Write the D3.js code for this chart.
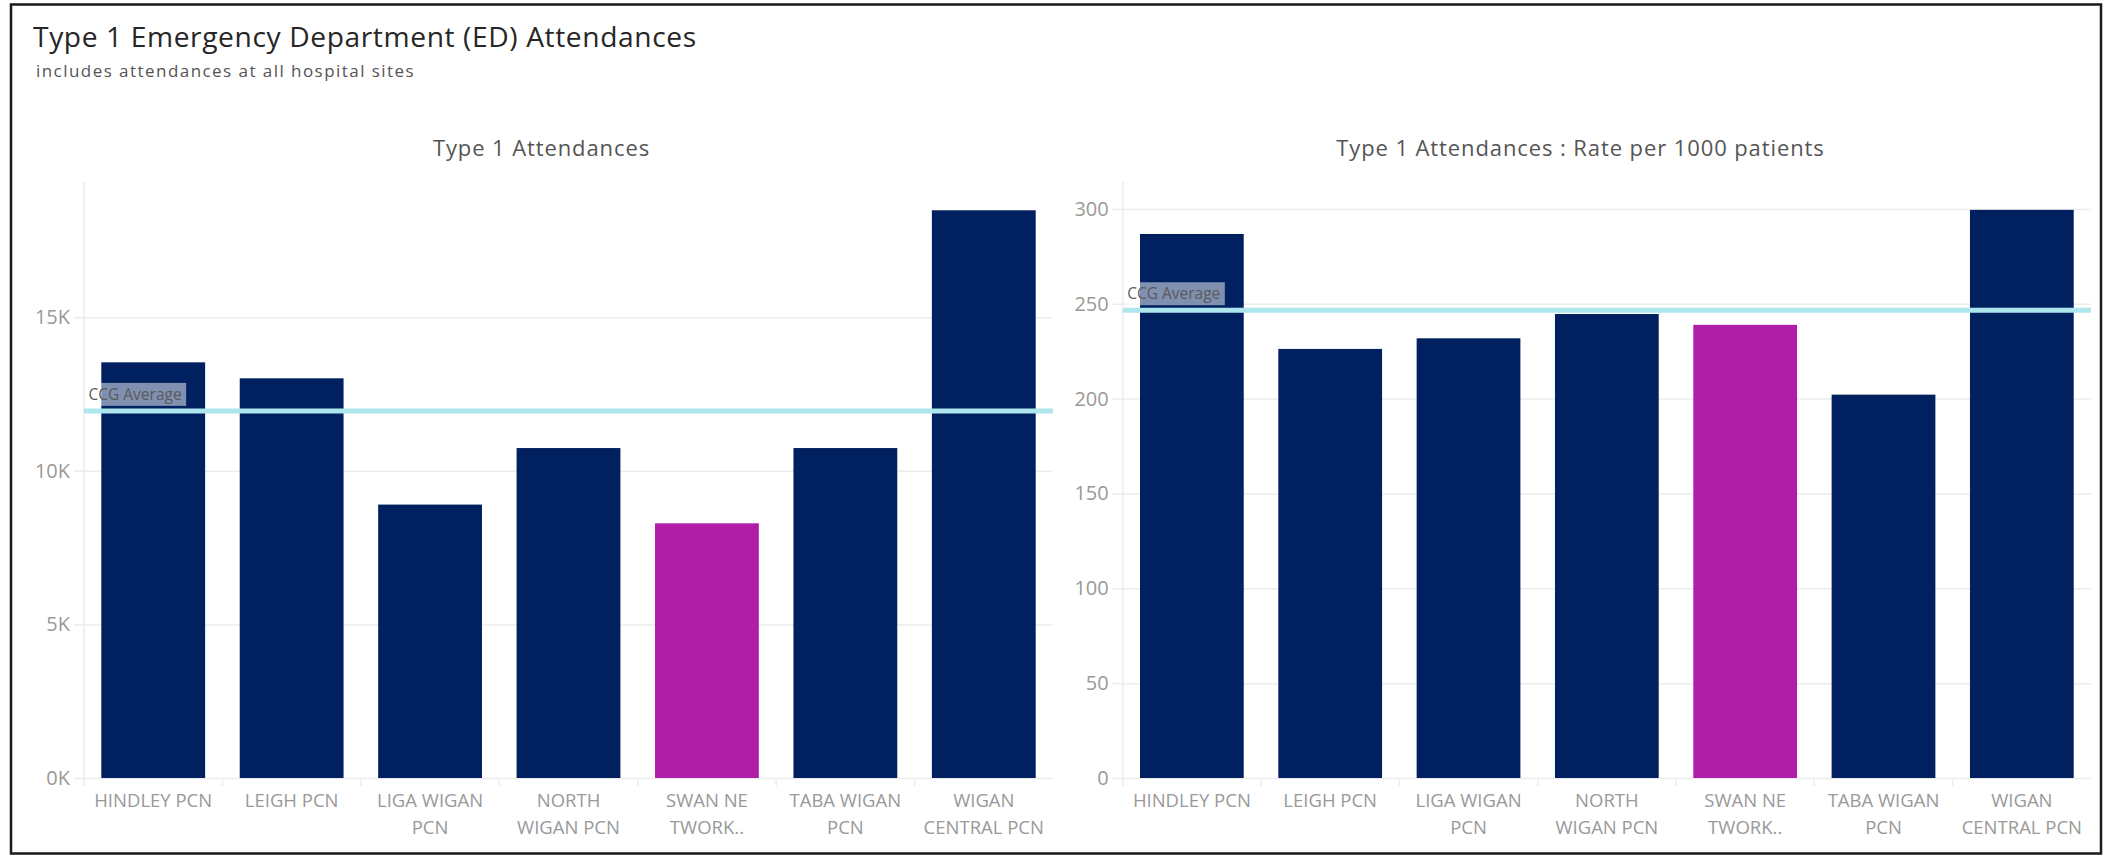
<!DOCTYPE html>
<html>
<head>
<meta charset="utf-8">
<script src="https://cdn.jsdelivr.net/npm/d3@7"></script>
<style>
  html, body { margin: 0; padding: 0; background: #fff; }
  svg { display: block; font-family: "Open Sans", "Noto Sans", sans-serif; }
</style>
</head>
<body>
<svg id="chart" width="2105" height="857"></svg>
<script>
// ---- data ----
const categories = ["HINDLEY PCN", "LEIGH PCN", "LIGA WIGAN PCN", "NORTH WIGAN PCN", "SWAN NETWORK PCN", "TABA WIGAN PCN", "WIGAN CENTRAL PCN"];
const categoryLabelLines = [["HINDLEY PCN"], ["LEIGH PCN"], ["LIGA WIGAN", "PCN"], ["NORTH", "WIGAN PCN"], ["SWAN NE", "TWORK.."], ["TABA WIGAN", "PCN"], ["WIGAN", "CENTRAL PCN"]];
const attendances = [13530, 13010, 8900, 10740, 8290, 10740, 18480];
const ratePer1000 = [286.8, 226.2, 231.8, 244.6, 238.9, 202.1, 299.5];
const ccgAverageAttendances = 11950;
const ccgAverageRate = 246.6;
const highlightedCategory = "SWAN NETWORK PCN";
const attendanceTicks = [0, 5000, 10000, 15000];
const attendanceTickLabels = ["0K", "5K", "10K", "15K"];
const rateTicks = [0, 50, 100, 150, 200, 250, 300];
const rateTickLabels = ["0", "50", "100", "150", "200", "250", "300"];

const titleText = "Type 1 Emergency Department (ED) Attendances";
const subtitleText = "includes attendances at all hospital sites";
const leftTitle = "Type 1 Attendances";
const rightTitle = "Type 1 Attendances : Rate per 1000 patients";

// ---- styling / layout ----
const NAVY = "#002060", MAGENTA = "#b01ea8", AVG = "#aee6ee", GRID = "#ececec";
const svg = d3.select("#chart");

svg.append("rect").attr("x", 11).attr("y", 4.5).attr("width", 2090).attr("height", 849)
  .attr("fill", "none").attr("stroke", "#1a1a1a").attr("stroke-width", 2.5);

svg.append("text").attr("x", 33).attr("y", 47).attr("font-size", 28.2).attr("letter-spacing", 0.6)
  .attr("fill", "#262626").text(titleText);
svg.append("text").attr("x", 36).attr("y", 77).attr("font-size", 17).attr("letter-spacing", 1.45)
  .attr("fill", "#555").text(subtitleText);

function drawPanel(opts) {
  const { left, right, top, bottom, values, ticks, tickLabels, domainMax, avg, title, titleCx } = opts;
  const x = d3.scaleBand().domain(categories).range([left, right]).paddingInner(0.25).paddingOuter(0.125);
  const y = d3.scaleLinear().domain([0, domainMax]).range([bottom, top]);
  const g = svg.append("g");

  // title
  g.append("text").attr("x", titleCx).attr("y", 156).attr("text-anchor", "middle")
    .attr("font-size", 22).attr("letter-spacing", 0.9).attr("fill", "#555").text(title);

  // gridlines
  const grid = d3.axisLeft(y).tickValues(ticks).tickSize(-(right - left)).tickFormat("");
  g.append("g").attr("transform", `translate(${left},0)`).call(grid)
    .call(s => s.select(".domain").remove())
    .call(s => s.selectAll("line").attr("stroke", GRID).attr("stroke-width", 1.5));

  // y axis with labels
  const yAxis = d3.axisLeft(y).tickValues(ticks).tickSize(10).tickPadding(4)
    .tickFormat((d, i) => tickLabels[i]);
  g.append("g").attr("transform", `translate(${left},0)`).call(yAxis)
    .call(s => s.select(".domain").remove())
    .call(s => s.selectAll("line").attr("stroke", GRID).attr("stroke-width", 1.5))
    .call(s => s.selectAll("text").attr("font-size", 20).attr("fill", "#999")
      .attr("font-family", '"Open Sans", sans-serif'));

  // vertical axis line
  g.append("line").attr("x1", left).attr("x2", left).attr("y1", top).attr("y2", bottom + 8)
    .attr("stroke", GRID).attr("stroke-width", 1.5);

  // category separators
  const sep = d3.range(1, categories.length).map(i => left + i * x.step());
  g.selectAll(".sep").data(sep).enter().append("line")
    .attr("x1", d => d).attr("x2", d => d).attr("y1", bottom + 2).attr("y2", bottom + 8)
    .attr("stroke", GRID).attr("stroke-width", 1.5);

  // bars
  g.selectAll(".bar").data(categories).enter().append("rect")
    .attr("x", d => x(d)).attr("width", x.bandwidth())
    .attr("y", (d, i) => y(values[i])).attr("height", (d, i) => y(0) - y(values[i]))
    .attr("fill", d => d === highlightedCategory ? MAGENTA : NAVY);

  // average line
  const ay = y(avg);
  g.append("line").attr("x1", left).attr("x2", right).attr("y1", ay).attr("y2", ay)
    .attr("stroke", AVG).attr("stroke-width", 5);

  // average label
  const lbl = g.append("text").attr("x", left + 4.5).attr("y", ay - 11)
    .attr("font-size", 15.5).attr("fill", "#5a5a5a").text("CCG Average");
  const w = lbl.node().getComputedTextLength();
  g.insert("rect", () => lbl.node()).attr("x", left + 2).attr("y", ay - 28).attr("width", w + 7).attr("height", 23)
    .attr("fill", "#ffffff").attr("fill-opacity", 0.5);

  // category labels
  const labels = g.selectAll(".cat").data(categories).enter().append("text")
    .attr("text-anchor", "middle").attr("font-size", 18.5).attr("fill", "#999")
    .attr("transform", d => `translate(${x(d) + x.bandwidth() / 2},${bottom + 29})`);
  labels.each(function (d, i) {
    const t = d3.select(this);
    categoryLabelLines[i].forEach((line, k) => {
      t.append("tspan").attr("x", 0).attr("y", k * 26.6).text(line);
    });
  });
}

drawPanel({ left: 84, right: 1053, top: 182, bottom: 778, values: attendances,
  ticks: attendanceTicks, tickLabels: attendanceTickLabels, domainMax: 19400,
  avg: ccgAverageAttendances, title: leftTitle, titleCx: 541.5 });

drawPanel({ left: 1122.7, right: 2091, top: 182, bottom: 778, values: ratePer1000,
  ticks: rateTicks, tickLabels: rateTickLabels, domainMax: 314.2,
  avg: ccgAverageRate, title: rightTitle, titleCx: 1580.5 });
</script>
</body>
</html>
